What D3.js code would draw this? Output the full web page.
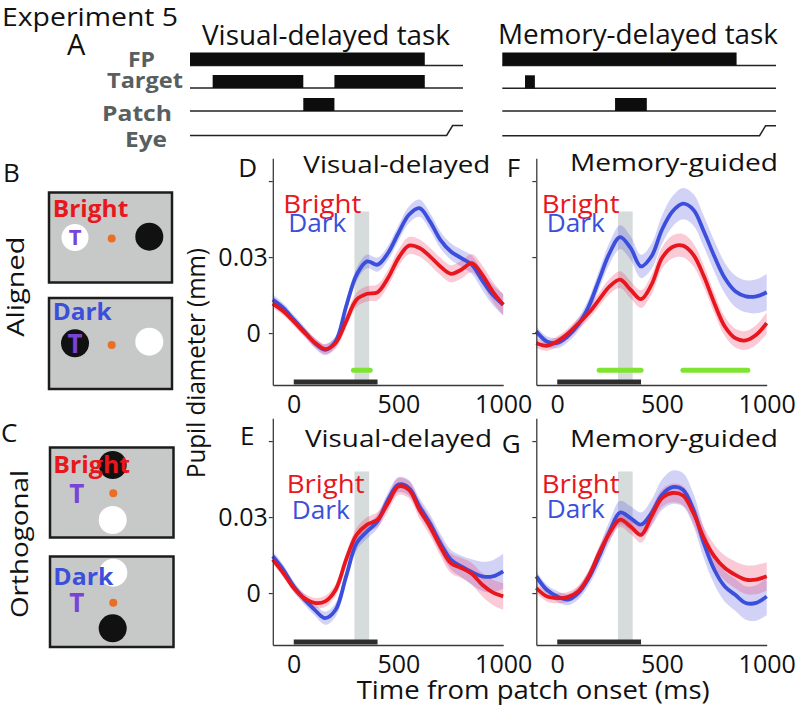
<!DOCTYPE html>
<html><head><meta charset="utf-8">
<script src="https://cdn.jsdelivr.net/npm/d3@7"></script>
<style>
body{margin:0;background:#fff}
svg{display:block}
text{font-family:"Open Sans",Lato,sans-serif}
</style>
</head><body>
<svg id="fig" width="796" height="708"></svg>
<script>
// ---------- data ----------
const timeMs = [-100,-50,0,50,100,150,200,250,300,350,400,450,500,550,600,650,700,750,800,850,900,950,1000];

const alignedVisualBright = [0.0116,0.0086,0.0046,0.0003,-0.0037,-0.0063,-0.0039,0.0046,0.0132,0.0155,0.0161,0.0217,0.0296,0.0345,0.0336,0.0303,0.0263,0.0234,0.0250,0.0276,0.0230,0.0164,0.0112];
const alignedVisualDark   = [0.0132,0.0099,0.0053,0.0007,-0.0039,-0.0066,-0.0033,0.0105,0.0230,0.0283,0.0270,0.0316,0.0395,0.0467,0.0493,0.0441,0.0368,0.0322,0.0296,0.0270,0.0208,0.0151,0.0112];
const alignedMemoryBright = [-0.0039,-0.0050,-0.0033,-0.0003,0.0037,0.0079,0.0132,0.0184,0.0211,0.0171,0.0134,0.0191,0.0296,0.0340,0.0345,0.0309,0.0224,0.0118,0.0026,-0.0020,-0.0029,-0.0007,0.0039];
const alignedMemoryDark   = [0.0007,-0.0033,-0.0039,-0.0013,0.0033,0.0105,0.0211,0.0316,0.0379,0.0336,0.0263,0.0303,0.0408,0.0480,0.0511,0.0487,0.0401,0.0303,0.0217,0.0165,0.0145,0.0145,0.0161];
const orthoVisualBright   = [0.0132,0.0079,0.0020,-0.0020,-0.0039,-0.0033,0.0013,0.0132,0.0230,0.0270,0.0290,0.0355,0.0421,0.0408,0.0329,0.0263,0.0184,0.0118,0.0099,0.0076,0.0033,0.0003,-0.0013];
const orthoVisualDark     = [0.0145,0.0092,0.0026,-0.0024,-0.0066,-0.0099,-0.0066,0.0066,0.0197,0.0243,0.0283,0.0368,0.0428,0.0415,0.0342,0.0276,0.0197,0.0132,0.0105,0.0083,0.0066,0.0066,0.0086];
const orthoMemoryBright   = [0.0020,-0.0013,-0.0020,-0.0016,0.0007,0.0066,0.0158,0.0237,0.0290,0.0263,0.0230,0.0303,0.0375,0.0395,0.0385,0.0316,0.0217,0.0145,0.0099,0.0072,0.0053,0.0053,0.0066];
const orthoMemoryDark     = [0.0066,0.0013,-0.0013,-0.0026,0,0.0059,0.0145,0.0243,0.0318,0.0296,0.0270,0.0316,0.0388,0.0418,0.0408,0.0329,0.0197,0.0092,0.0026,-0.0007,-0.0039,-0.0039,-0.0013];

const semAlignedVisualBright = [0.0016,0.0016,0.0017,0.0018,0.0019,0.0020,0.0022,0.0025,0.0028,0.0030,0.0031,0.0032,0.0033,0.0034,0.0034,0.0034,0.0034,0.0034,0.0035,0.0036,0.0038,0.0040,0.0042];
const semAlignedVisualDark   = [0.0020,0.0019,0.0019,0.0019,0.0020,0.0021,0.0022,0.0024,0.0026,0.0027,0.0028,0.0029,0.0031,0.0033,0.0034,0.0034,0.0033,0.0033,0.0034,0.0036,0.0038,0.0040,0.0042];
const semAlignedMemoryBright = [0.0020,0.0020,0.0020,0.0021,0.0022,0.0024,0.0027,0.0030,0.0033,0.0034,0.0035,0.0038,0.0042,0.0045,0.0046,0.0045,0.0043,0.0040,0.0038,0.0037,0.0037,0.0039,0.0042];
const semAlignedMemoryDark   = [0.0020,0.0020,0.0021,0.0023,0.0026,0.0030,0.0036,0.0042,0.0047,0.0047,0.0046,0.0050,0.0056,0.0060,0.0062,0.0062,0.0061,0.0061,0.0061,0.0062,0.0063,0.0067,0.0072];
const semOrthoVisualBright   = [0.0016,0.0016,0.0017,0.0018,0.0020,0.0022,0.0024,0.0026,0.0028,0.0029,0.0030,0.0032,0.0033,0.0034,0.0035,0.0036,0.0037,0.0039,0.0040,0.0043,0.0046,0.0050,0.0053];
const semOrthoVisualDark     = [0.0020,0.0020,0.0020,0.0021,0.0023,0.0026,0.0027,0.0027,0.0028,0.0028,0.0028,0.0029,0.0030,0.0031,0.0033,0.0035,0.0037,0.0039,0.0042,0.0050,0.0058,0.0064,0.0069];
const semOrthoMemoryBright   = [0.0020,0.0020,0.0020,0.0020,0.0021,0.0023,0.0026,0.0028,0.0029,0.0030,0.0031,0.0033,0.0035,0.0037,0.0038,0.0040,0.0043,0.0046,0.0049,0.0053,0.0057,0.0058,0.0056];
const semOrthoMemoryDark     = [0.0020,0.0020,0.0021,0.0022,0.0025,0.0030,0.0036,0.0042,0.0046,0.0047,0.0048,0.0052,0.0060,0.0066,0.0066,0.0064,0.0060,0.0058,0.0060,0.0063,0.0066,0.0070,0.0075];

const xTicks = [0, 500, 1000];
const xTickLabels = ["0", "500", "1000"];
const yTicks = [0, 0.03, 0.06];
const yTickLabels = ["0", "0.03", ""];
const xDomain = [-100, 1000];
const yDomain = [-0.0205, 0.069];
const patchBar = [0, 400];          // black bar (ms)
const grayWindow = [290, 360];      // shaded window (ms)
const grayTop = 0.048, grayBottom = -0.0195;
const sigAlignedVisual = [[285, 365]];
const sigAlignedMemory = [[200, 400], [600, 910]];
const sigLevel = -0.0147;

// timing diagram (arbitrary units 0-100)
const timingRows = ["FP", "Target", "Patch", "Eye"];
const visualTaskEpochs = {FP: [[0, 86]], Target: [[8.3, 41.5], [52.9, 86]], Patch: [[41.5, 52.9]]};
const memoryTaskEpochs = {FP: [[0, 85.6]], Target: [[8.3, 11.9]], Patch: [[41.2, 52.8]]};
const eyeSaccade = [94, 96.2];

// ---------- drawing ----------
const RED = "#e8161d", BLUE = "#3b4fdc", PURPLE = "#7a43d8", ORANGE = "#ea6f24";
const svg = d3.select("#fig");

function txt(s, x, y, o = {}) {
  const t = svg.append("text").attr("x", x).attr("y", y).text(s)
    .attr("font-size", o.size || 24)
    .attr("fill", o.fill || "#111")
    .attr("font-weight", o.weight || "normal")
    .attr("text-anchor", o.anchor || "start");
  if (o.len) t.attr("textLength", o.len).attr("lengthAdjust", "spacingAndGlyphs");
  if (o.rot) t.attr("transform", `rotate(${o.rot},${x},${y})`);
  return t;
}

// --- header ---
txt("Experiment 5", 2, 26, {size: 25, len: 176});
txt("A", 67, 55, {size: 29});
txt("Visual-delayed task", 202, 45, {size: 27, len: 248});
txt("Memory-delayed task", 498, 43.5, {size: 27, len: 280});

const rowBaseY = {FP: 65.5, Target: 88, Patch: 111, Eye: 135.5};
const labelGray = "#57605f";
txt("FP", 128, 66.7, {size: 22, weight: "bold", fill: labelGray, len: 27});
txt("Target", 107, 88, {size: 22, weight: "bold", fill: labelGray, len: 76});
txt("Patch", 102, 120.7, {size: 22, weight: "bold", fill: labelGray, len: 70});
txt("Eye", 125, 146.7, {size: 22, weight: "bold", fill: labelGray, len: 42});

function drawTask(x0, x1, epochs, rowBase) {
  const sx = d3.scaleLinear().domain([0, 100]).range([x0, x1]);
  const g = svg.append("g");
  timingRows.forEach(r => {
    const yb = rowBase[r];
    if (r === "Eye") {
      g.append("path")
        .attr("d", `M${x0},${yb}H${sx(eyeSaccade[0])}L${sx(eyeSaccade[1])},${yb - 10}H${x1}`)
        .attr("fill", "none").attr("stroke", "#222").attr("stroke-width", 1.5);
    } else {
      g.append("line").attr("x1", x0).attr("x2", x1).attr("y1", yb).attr("y2", yb)
        .attr("stroke", "#222").attr("stroke-width", 1.5);
      (epochs[r] || []).forEach(([a, b]) => {
        g.append("rect").attr("x", sx(a)).attr("y", yb - 13).attr("width", sx(b) - sx(a)).attr("height", 13)
          .attr("fill", "#0d0d0d");
      });
    }
  });
}
drawTask(190, 463, visualTaskEpochs, rowBaseY);
drawTask(502.3, 776, memoryTaskEpochs, {FP: 65.5, Target: 88.3, Patch: 111, Eye: 135.7});

// --- panels B and C (schematics) ---
txt("B", 3, 182, {size: 26});
txt("C", 1, 442, {size: 26});
txt("Aligned", 24.5, 286.7, {size: 24, anchor: "middle", rot: -90, len: 100});
txt("Orthogonal", 27.5, 544, {size: 24, anchor: "middle", rot: -90, len: 148});

function box(x, y, w, h) {
  svg.append("rect").attr("x", x).attr("y", y).attr("width", w).attr("height", h)
    .attr("fill", "#c7c9c8").attr("stroke", "#1c1c1c").attr("stroke-width", 2.5);
}
function disc(cx, cy, r, fill) {
  svg.append("circle").attr("cx", cx).attr("cy", cy).attr("r", r).attr("fill", fill);
}
// B top
box(49, 192.5, 123, 90);
disc(75, 237.5, 13.5, "#fff");
disc(111.7, 238.5, 4, ORANGE);
disc(149.3, 236.7, 14, "#111");
txt("Bright", 52.7, 216.7, {size: 23, weight: "bold", fill: RED, len: 75.6});
txt("T", 75, 245, {size: 22, weight: "bold", fill: PURPLE, anchor: "middle"});
// B bottom
box(49, 298, 123, 91);
disc(75, 343.3, 14, "#111");
disc(111.7, 345, 4, ORANGE);
disc(149.3, 341.7, 14, "#fff");
txt("Dark", 52.7, 320, {size: 23, weight: "bold", fill: BLUE, len: 59});
txt("T", 75, 353, {size: 26, weight: "bold", fill: PURPLE, anchor: "middle"});
// C top
box(50, 447.5, 123.5, 90);
disc(112.7, 465, 14, "#111");
disc(113.3, 493.3, 4, ORANGE);
disc(112.7, 520, 14, "#fff");
txt("Bright", 53.3, 473.3, {size: 23, weight: "bold", fill: RED, len: 76.7});
txt("T", 76.7, 503.3, {size: 26, weight: "bold", fill: PURPLE, anchor: "middle"});
// C bottom
box(50, 556.5, 123.5, 90.5);
disc(113.3, 572.7, 14, "#fff");
disc(113.3, 602.7, 4, ORANGE);
disc(112.7, 628.3, 14, "#111");
txt("Dark", 53.3, 585, {size: 23, weight: "bold", fill: BLUE, len: 60});
txt("T", 76.7, 611.7, {size: 26, weight: "bold", fill: PURPLE, anchor: "middle"});

// --- pupil panels ---
const panels = [
  {letter: "D", lx: 238.3, ly: 176.7, title: "Visual-delayed", tx: 303.3, ty: 172.7, tlen: 187,
   left: 272.8, bottom: 385, bright: alignedVisualBright, dark: alignedVisualDark,
   semB: semAlignedVisualBright, semD: semAlignedVisualDark, sig: sigAlignedVisual,
   legX: 283.3, legY1: 213.3, legY2: 231.7, labels: true},
  {letter: "F", lx: 506.7, ly: 176.7, title: "Memory-guided", tx: 570, ty: 170.7, tlen: 208,
   left: 536.3, bottom: 385, bright: alignedMemoryBright, dark: alignedMemoryDark,
   semB: semAlignedMemoryBright, semD: semAlignedMemoryDark, sig: sigAlignedMemory,
   legX: 541.7, legY1: 213.3, legY2: 231.7, labels: false},
  {letter: "E", lx: 240, ly: 445, title: "Visual-delayed", tx: 305, ty: 446.5, tlen: 187,
   left: 272.8, bottom: 645, bright: orthoVisualBright, dark: orthoVisualDark,
   semB: semOrthoVisualBright, semD: semOrthoVisualDark, sig: [],
   legX: 286.7, legY1: 493.3, legY2: 518.8, labels: true},
  {letter: "G", lx: 501.7, ly: 453.3, title: "Memory-guided", tx: 570, ty: 446.7, tlen: 208,
   left: 536.3, bottom: 645, bright: orthoMemoryBright, dark: orthoMemoryDark,
   semB: semOrthoMemoryBright, semD: semOrthoMemoryDark, sig: [],
   legX: 541.7, legY1: 493.3, legY2: 518.3, labels: false}
];

const PX_PER_003 = 76;
panels.forEach(p => {
  const x = d3.scaleLinear().domain(xDomain).range([p.left, p.left + 230.4]);
  const yTopPx = p.bottom - (yDomain[1] - yDomain[0]) / 0.03 * PX_PER_003;
  const y = d3.scaleLinear().domain(yDomain).range([p.bottom, yTopPx]);
  const g = svg.append("g");

  // shaded analysis window
  g.append("rect").attr("x", x(grayWindow[0])).attr("width", x(grayWindow[1]) - x(grayWindow[0]))
    .attr("y", y(grayTop)).attr("height", y(grayBottom) - y(grayTop)).attr("fill", "#d6dbdb");

  const rows = timeMs.map((t, i) => ({t, b: p.bright[i], d: p.dark[i], sb: p.semB[i], sd: p.semD[i]}));
  const curve = d3.curveCatmullRom.alpha(0.5);
  const areaD = d3.area().x(r => x(r.t)).y0(r => y(r.d - r.sd)).y1(r => y(r.d + r.sd)).curve(curve);
  const areaB = d3.area().x(r => x(r.t)).y0(r => y(r.b - r.sb)).y1(r => y(r.b + r.sb)).curve(curve);
  g.append("path").attr("d", areaD(rows)).attr("fill", "rgb(80,80,225)").attr("fill-opacity", 0.26);
  g.append("path").attr("d", areaB(rows)).attr("fill", "rgb(235,50,95)").attr("fill-opacity", 0.26);
  const lineD = d3.line().x(r => x(r.t)).y(r => y(r.d)).curve(curve);
  const lineB = d3.line().x(r => x(r.t)).y(r => y(r.b)).curve(curve);
  g.append("path").attr("d", lineD(rows)).attr("fill", "none").attr("stroke", BLUE).attr("stroke-width", 3.8);
  g.append("path").attr("d", lineB(rows)).attr("fill", "none").attr("stroke", RED).attr("stroke-width", 3.8);

  // significance bars
  p.sig.forEach(([a, b]) => {
    g.append("line").attr("x1", x(a)).attr("x2", x(b)).attr("y1", y(sigLevel)).attr("y2", y(sigLevel))
      .attr("stroke", "#7fe331").attr("stroke-width", 5).attr("stroke-linecap", "round");
  });
  // patch period bar
  g.append("rect").attr("x", x(patchBar[0])).attr("width", x(patchBar[1]) - x(patchBar[0]))
    .attr("y", p.bottom - 5.5).attr("height", 5).attr("fill", "#2e2e2e");

  // axes
  const ya = d3.axisLeft(y).tickValues(yTicks).tickSize(4).tickSizeOuter(0).tickPadding(1)
    .tickFormat((d, i) => p.labels ? yTickLabels[i] : "");
  const yg = g.append("g").attr("transform", `translate(${p.left},0)`).call(ya);
  yg.selectAll("text").attr("font-size", 25).attr("fill", "#111")
    .attr("font-family", '"Open Sans",Lato,sans-serif')
    .attr("dx", d => d === 0 ? -7 : 0);
  const xa = d3.axisBottom(x).tickValues(xTicks).tickSize(0).tickSizeOuter(0).tickPadding(10)
    .tickFormat((d, i) => xTickLabels[i]);
  const xg = g.append("g").attr("transform", `translate(0,${p.bottom})`).call(xa);
  xg.selectAll("text").attr("font-size", 25).attr("fill", "#111")
    .attr("font-family", '"Open Sans",Lato,sans-serif');
  [yg, xg].forEach(a => {
    a.select(".domain").attr("stroke", "#3a3a3a").attr("stroke-width", 1.3);
    a.selectAll(".tick line").attr("stroke", "#3a3a3a").attr("stroke-width", 1.2);
  });

  // labels
  txt(p.letter, p.lx, p.ly, {size: 26});
  txt(p.title, p.tx, p.ty, {size: 24, len: p.tlen});
  txt("Bright", p.legX, p.legY1, {size: 25, fill: RED, len: 78});
  txt("Dark", p.legX + 5, p.legY2, {size: 25, fill: BLUE, len: 58});
});

// axis titles
txt("Pupil diameter (mm)", 204.5, 363, {size: 25, anchor: "middle", rot: -90, len: 230});
txt("Time from patch onset (ms)", 356.7, 699.3, {size: 26, len: 353});
</script>
</body></html>
